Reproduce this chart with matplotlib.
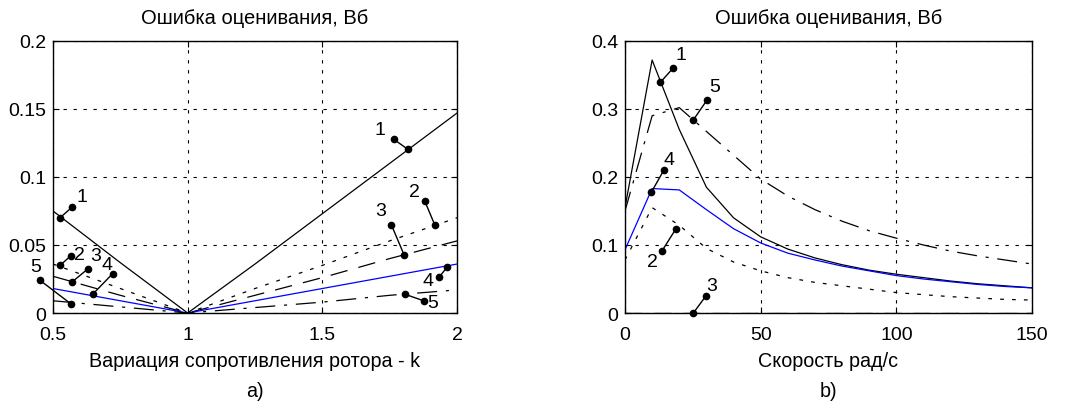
import matplotlib
matplotlib.use('Agg')
import matplotlib.pyplot as plt
import numpy as np

plt.rcParams['font.family'] = ['Liberation Sans', 'DejaVu Sans']
plt.rcParams['font.size'] = 14

# panel a) - rotor resistance variation
k = [0.5, 0.75, 1.0, 1.25, 1.5, 1.75, 2.0]
a_1 = [0.075, 0.037, 0.0, 0.036, 0.073, 0.110, 0.147]
a_2 = [0.036, 0.018, 0.0, 0.018, 0.035, 0.053, 0.070]
a_3 = [0.027, 0.013, 0.0, 0.013, 0.026, 0.040, 0.053]
a_4 = [0.018, 0.009, 0.0, 0.009, 0.018, 0.027, 0.036]
a_5 = [0.009, 0.0045, 0.0, 0.004, 0.008, 0.013, 0.017]

# panel b) - speed
w = [0, 10, 20, 30, 40, 50, 60, 70, 80, 90, 100, 110, 120, 130, 140, 150]
b_1 = [0.155, 0.372, 0.270, 0.185, 0.140, 0.112, 0.094, 0.081, 0.071, 0.063,
       0.057, 0.052, 0.047, 0.043, 0.040, 0.037]
b_2 = [0.078, 0.155, 0.129, 0.095, 0.075, 0.062, 0.052, 0.045, 0.040, 0.035,
       0.030, 0.027, 0.024, 0.022, 0.020, 0.019]
b_3 = [0.0] * 16
b_4 = [0.093, 0.183, 0.181, 0.152, 0.124, 0.103, 0.088, 0.078, 0.069, 0.062,
       0.055, 0.050, 0.046, 0.042, 0.039, 0.037]
b_5 = [0.150, 0.290, 0.302, 0.267, 0.232, 0.197, 0.172, 0.152, 0.135, 0.121,
       0.110, 0.100, 0.091, 0.084, 0.078, 0.072]

# pointer labels: (text, dot on curve, outer dot, text position)
a_labels = [
    ('1', (0.526, 0.070), (0.572, 0.078), (0.608, 0.086)),
    ('2', (0.526, 0.035), (0.566, 0.042), (0.598, 0.043)),
    ('3', (0.572, 0.023), (0.630, 0.0325), (0.657, 0.042)),
    ('4', (0.647, 0.0137), (0.722, 0.029), (0.700, 0.036)),
    ('5', (0.566, 0.0068), (0.452, 0.024), (0.436, 0.034)),
    ('1', (1.818, 0.1203), (1.766, 0.1276), (1.715, 0.135)),
    ('2', (1.917, 0.065), (1.881, 0.082), (1.842, 0.089)),
    ('3', (1.803, 0.043), (1.756, 0.065), (1.715, 0.075)),
    ('4', (1.963, 0.0337), (1.934, 0.0264), (1.894, 0.024)),
    ('5', (1.808, 0.0137), (1.876, 0.009), (1.911, 0.008)),
]
b_labels = [
    ('1', (13.0, 0.339), (17.7, 0.360), (20.7, 0.380)),
    ('5', (25.2, 0.284), (30.2, 0.313), (33.2, 0.333)),
    ('4', (9.7, 0.1775), (14.3, 0.210), (16.4, 0.226)),
    ('2', (18.8, 0.124), (13.6, 0.091), (10.2, 0.075)),
    ('3', (25.2, 0.0), (29.8, 0.025), (32.0, 0.041)),
]

title = 'Ошибка оценивания, Вб'

fig = plt.figure(figsize=(10.66, 4.06), dpi=100)
ax1 = fig.add_axes([0.0497, 0.2266, 0.379, 0.670])
ax2 = fig.add_axes([0.5863, 0.2266, 0.3818, 0.670])

styles = [dict(color='k', ls='-'), dict(color='k', ls=(0, (3, 6.5))),
          dict(color='k', ls=(0, (14, 9))), dict(color='#0000ff', ls='-'),
          dict(color='k', ls=(0, (16, 7, 2.5, 7)))]

for ax, x, ys in [(ax1, k, [a_1, a_2, a_3, a_4, a_5]),
                  (ax2, w, [b_1, b_2, b_3, b_4, b_5])]:
    for y, st in zip(ys, styles):
        ax.plot(x, y, lw=0.9, **st)

def pointers(ax, labels):
    for txt, p1, p2, pt in labels:
        ax.plot([p1[0], p2[0]], [p1[1], p2[1]], 'k-', lw=1, marker='o',
                ms=4.5, clip_on=False, zorder=5)
        ax.text(pt[0], pt[1], txt, ha='center', va='center', fontsize=14)

pointers(ax1, a_labels)
pointers(ax2, b_labels)

ax1.set_xlim(0.5, 2)
ax1.set_ylim(0, 0.2)
ax1.set_xticks([0.5, 1, 1.5, 2])
ax1.set_yticks([0, 0.05, 0.1, 0.15, 0.2])
ax1.set_xticklabels(['0.5', '1', '1.5', '2'])
ax1.set_yticklabels(['0', '0.05', '0.1', '0.15', '0.2'])

ax2.set_xlim(0, 150)
ax2.set_ylim(0, 0.4)
ax2.set_xticks([0, 50, 100, 150])
ax2.set_yticks([0, 0.1, 0.2, 0.3, 0.4])
ax2.set_yticklabels(['0', '0.1', '0.2', '0.3', '0.4'])

for ax, xl, cap in [(ax1, 'Вариация сопротивления ротора - k', 'a)'),
                    (ax2, 'Скорость рад/с', 'b)')]:
    ax.set_title(title, fontsize=14.5, pad=13)
    ax.grid(True, color='k', ls=(0, (3, 6)), lw=0.8)
    ax.tick_params(direction='in', length=4, top=True, right=True, labelsize=14)
    ax.tick_params(axis='x', pad=9)
    ax.tick_params(axis='y', pad=5)
    for s in ax.spines.values():
        s.set_linewidth(1.0)
    box = ax.get_position()
    xc = (box.x0 + box.x1) / 2
    fig.text(xc, 1 - 362 / 406, xl, ha='center', va='center', fontsize=14.2)
    fig.text(xc, 1 - 392 / 406, cap, ha='center', va='center', fontsize=14.2)

fig.savefig('out.png', dpi=100)
